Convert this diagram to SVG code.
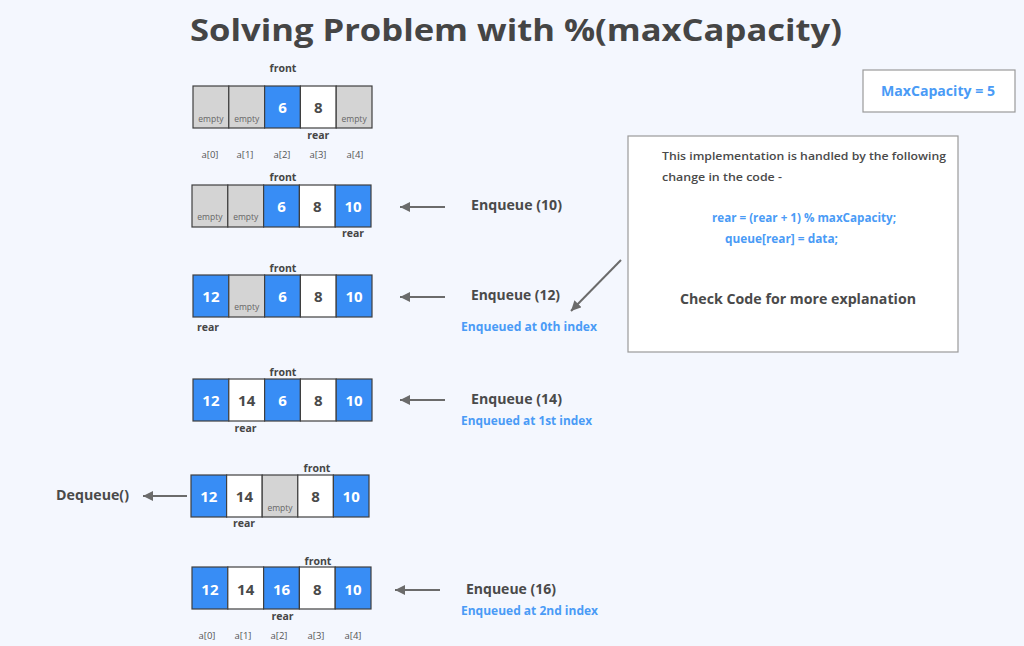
<svg xmlns="http://www.w3.org/2000/svg" width="1024" height="646" viewBox="0 0 1024 646">
<defs>
<marker id="ah" markerUnits="userSpaceOnUse" markerWidth="11" markerHeight="10" refX="10" refY="5" orient="auto">
<path d="M0,0 L10,5 L0,10 z" fill="#6b6b6b"/>
</marker>
<style>
text{font-family:"Open Sans","Liberation Sans",sans-serif}
.b{fill:#388df5;stroke:#3f3f3f;stroke-width:1.2}
.w{fill:#ffffff;stroke:#3f3f3f;stroke-width:1.2}
.g{fill:#d4d4d4;stroke:#3f3f3f;stroke-width:1.2}
.nw{font-size:15px;font-weight:700;fill:#ffffff;text-anchor:middle}
.nd{font-size:15px;font-weight:700;fill:#4a4a4a;text-anchor:middle}
.em{font-size:8.5px;fill:#666666;text-anchor:middle}
.lb{font-size:10.5px;font-weight:700;fill:#454545;text-anchor:middle}
.ix{font-size:9.5px;fill:#555555;text-anchor:middle}
.op{font-size:14px;font-weight:700;fill:#4a4a4a}
.bl{font-size:11.5px;font-weight:700;fill:#4a9bf6}
.dk{font-size:11.5px;font-weight:600;fill:#4a4a4a}
.ar{stroke:#6b6b6b;stroke-width:2;fill:none;marker-end:url(#ah)}
.bx{fill:#ffffff;stroke:#9a9a9a;stroke-width:1.2}
</style>
</defs>
<rect width="1024" height="646" fill="#f4f7fe"/>
<text x="516" y="41" font-size="31" font-weight="700" fill="#454545" text-anchor="middle" textLength="652" lengthAdjust="spacingAndGlyphs">Solving Problem with %(maxCapacity)</text>

<g id="maxcap">
<rect class="bx" x="863" y="70" width="152" height="42"/>
<text x="938" y="96" font-size="13.5" font-weight="700" fill="#4a9bf6" text-anchor="middle" textLength="114" lengthAdjust="spacingAndGlyphs">MaxCapacity = 5</text>
</g>

<g id="info">
<rect class="bx" x="628" y="136" width="330" height="216"/>
<text class="dk" x="662" y="160" textLength="284" lengthAdjust="spacingAndGlyphs">This implementation is handled by the following</text>
<text class="dk" x="662" y="181" textLength="120" lengthAdjust="spacingAndGlyphs">change in the code -</text>
<text class="bl" x="712" y="222" textLength="184" lengthAdjust="spacingAndGlyphs">rear = (rear + 1) % maxCapacity;</text>
<text class="bl" x="725" y="243" textLength="113" lengthAdjust="spacingAndGlyphs">queue[rear] = data;</text>
<text class="op" x="680" y="304" textLength="236" lengthAdjust="spacingAndGlyphs">Check Code for more explanation</text>
</g>

<g id="row1" transform="translate(193,86)">
<rect class="g" x="0" y="0" width="35.8" height="42"/>
<rect class="g" x="35.8" y="0" width="35.8" height="42"/>
<rect class="b" x="71.6" y="0" width="35.8" height="42"/>
<rect class="w" x="107.4" y="0" width="35.8" height="42"/>
<rect class="g" x="143.2" y="0" width="35.8" height="42"/>
<text class="em" x="17.9" y="36">empty</text>
<text class="em" x="53.7" y="36">empty</text>
<text class="nw" x="89.5" y="27">6</text>
<text class="nd" x="125.3" y="27">8</text>
<text class="em" x="161.1" y="36">empty</text>
<text class="lb" x="90" y="-14">front</text>
<text class="lb" x="125.3" y="53">rear</text>
<text class="ix" x="17" y="72">a[0]</text>
<text class="ix" x="52" y="72">a[1]</text>
<text class="ix" x="89" y="72">a[2]</text>
<text class="ix" x="125" y="72">a[3]</text>
<text class="ix" x="162" y="72">a[4]</text>
</g>

<g id="row2" transform="translate(192,185)">
<rect class="g" x="0" y="0" width="35.8" height="42"/>
<rect class="g" x="35.8" y="0" width="35.8" height="42"/>
<rect class="b" x="71.6" y="0" width="35.8" height="42"/>
<rect class="w" x="107.4" y="0" width="35.8" height="42"/>
<rect class="b" x="143.2" y="0" width="35.8" height="42"/>
<text class="em" x="17.9" y="35">empty</text>
<text class="em" x="53.7" y="35">empty</text>
<text class="nw" x="89.5" y="27">6</text>
<text class="nd" x="125.3" y="27">8</text>
<text class="nw" x="161.1" y="27">10</text>
<text class="lb" x="91" y="-4">front</text>
<text class="lb" x="161" y="52">rear</text>
</g>
<g id="op2">
<text class="op" x="471" y="210" textLength="91" lengthAdjust="spacingAndGlyphs">Enqueue (10)</text>
</g>

<g id="row3" transform="translate(193,275)">
<rect class="b" x="0" y="0" width="35.8" height="42"/>
<rect class="g" x="35.8" y="0" width="35.8" height="42"/>
<rect class="b" x="71.6" y="0" width="35.8" height="42"/>
<rect class="w" x="107.4" y="0" width="35.8" height="42"/>
<rect class="b" x="143.2" y="0" width="35.8" height="42"/>
<text class="nw" x="17.9" y="27">12</text>
<text class="em" x="53.7" y="35">empty</text>
<text class="nw" x="89.5" y="27">6</text>
<text class="nd" x="125.3" y="27">8</text>
<text class="nw" x="161.1" y="27">10</text>
<text class="lb" x="90" y="-3">front</text>
<text class="lb" x="15" y="56">rear</text>
</g>
<g id="op3">
<text class="op" x="471" y="300" textLength="89" lengthAdjust="spacingAndGlyphs">Enqueue (12)</text>
<text class="bl" x="461" y="331" textLength="136" lengthAdjust="spacingAndGlyphs">Enqueued at 0th index</text>
</g>

<g id="row4" transform="translate(193,379)">
<rect class="b" x="0" y="0" width="35.8" height="42"/>
<rect class="w" x="35.8" y="0" width="35.8" height="42"/>
<rect class="b" x="71.6" y="0" width="35.8" height="42"/>
<rect class="w" x="107.4" y="0" width="35.8" height="42"/>
<rect class="b" x="143.2" y="0" width="35.8" height="42"/>
<text class="nw" x="17.9" y="27">12</text>
<text class="nd" x="53.7" y="27">14</text>
<text class="nw" x="89.5" y="27">6</text>
<text class="nd" x="125.3" y="27">8</text>
<text class="nw" x="161.1" y="27">10</text>
<text class="lb" x="90" y="-3">front</text>
<text class="lb" x="52.5" y="53">rear</text>
</g>
<g id="op4">
<text class="op" x="471" y="404" textLength="91" lengthAdjust="spacingAndGlyphs">Enqueue (14)</text>
<text class="bl" x="461" y="425" textLength="131" lengthAdjust="spacingAndGlyphs">Enqueued at 1st index</text>
</g>

<g id="row5" transform="translate(191,475)">
<rect class="b" x="0" y="0" width="35.6" height="42"/>
<rect class="w" x="35.6" y="0" width="35.6" height="42"/>
<rect class="g" x="71.2" y="0" width="35.6" height="42"/>
<rect class="w" x="106.8" y="0" width="35.6" height="42"/>
<rect class="b" x="142.4" y="0" width="35.6" height="42"/>
<text class="nw" x="17.8" y="27">12</text>
<text class="nd" x="53.4" y="27">14</text>
<text class="em" x="89" y="36">empty</text>
<text class="nd" x="124.6" y="27">8</text>
<text class="nw" x="160.2" y="27">10</text>
<text class="lb" x="126" y="-3">front</text>
<text class="lb" x="53" y="52">rear</text>
</g>
<g id="op5">
<text class="op" x="56" y="500" textLength="73" lengthAdjust="spacingAndGlyphs">Dequeue()</text>
</g>

<g id="row6" transform="translate(192,567)">
<rect class="b" x="0" y="0" width="35.8" height="42"/>
<rect class="w" x="35.8" y="0" width="35.8" height="42"/>
<rect class="b" x="71.6" y="0" width="35.8" height="42"/>
<rect class="w" x="107.4" y="0" width="35.8" height="42"/>
<rect class="b" x="143.2" y="0" width="35.8" height="42"/>
<text class="nw" x="17.9" y="28">12</text>
<text class="nd" x="53.7" y="28">14</text>
<text class="nw" x="89.5" y="28">16</text>
<text class="nd" x="125.3" y="28">8</text>
<text class="nw" x="161.1" y="28">10</text>
<text class="lb" x="126" y="-2">front</text>
<text class="lb" x="90.5" y="53">rear</text>
<text class="ix" x="15" y="72">a[0]</text>
<text class="ix" x="51" y="72">a[1]</text>
<text class="ix" x="87" y="72">a[2]</text>
<text class="ix" x="124" y="72">a[3]</text>
<text class="ix" x="161" y="72">a[4]</text>
</g>
<g id="op6">
<text class="op" x="466" y="594" textLength="90" lengthAdjust="spacingAndGlyphs">Enqueue (16)</text>
<text class="bl" x="461" y="615" textLength="137" lengthAdjust="spacingAndGlyphs">Enqueued at 2nd index</text>
</g>

<g id="connectors">
<line class="ar" x1="445" y1="207" x2="400" y2="207"/>
<line class="ar" x1="445" y1="297" x2="400" y2="297"/>
<line class="ar" x1="445" y1="400" x2="400" y2="400"/>
<line class="ar" x1="187" y1="496" x2="143" y2="496"/>
<line class="ar" x1="440" y1="590" x2="395" y2="590"/>
<line class="ar" x1="621" y1="260" x2="571" y2="311"/>
</g>
</svg>
